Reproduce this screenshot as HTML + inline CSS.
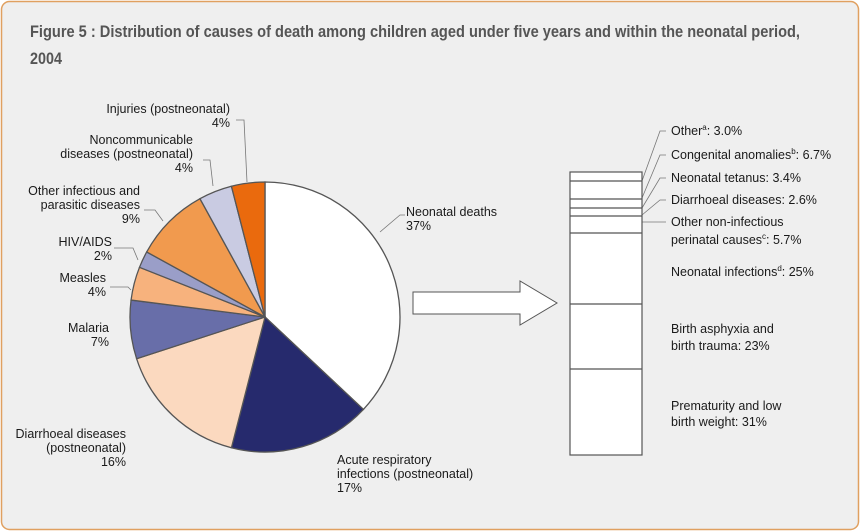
<!DOCTYPE html>
<html><head><meta charset="utf-8"><style>
html,body{margin:0;padding:0;background:#fff;width:860px;height:531px;overflow:hidden}
svg{display:block}
text{font-family:"Liberation Sans Narrow","Liberation Sans",sans-serif;font-size:12.5px;fill:#1a1a1a}
.t{font-weight:bold;font-size:17px;fill:#555}
</style></head><body>
<svg id="s" width="860" height="531" viewBox="0 0 860 531" xmlns="http://www.w3.org/2000/svg">
<rect x="1.5" y="1.5" width="857" height="528" rx="8" fill="#efefef" stroke="#e0a060" stroke-width="1.5"/>
<text class="t" x="30" y="37" textLength="770" lengthAdjust="spacingAndGlyphs">Figure 5 : Distribution of causes of death among children aged under five years and within the neonatal period,</text>
<text class="t" x="30" y="64" textLength="32" lengthAdjust="spacingAndGlyphs">2004</text>
<g id="pie" stroke="#555" stroke-width="1.3"></g>
<g stroke="#777" stroke-width="0.8" fill="none">
<polyline points="380,232 400,215 405,215"/>
<polyline points="247,182 244,120 236,120"/>
<polyline points="213,186 210,160 203,160"/>
<polyline points="163,221 155,210 144,210"/>
<polyline points="138,260 133,248 114,248"/>
<polyline points="131,290 128,287 110,287"/>
<polyline points="642,181 660,131 666,131"/>
<polyline points="642,198 660,155 666,155"/>
<polyline points="642,208 660,178 666,178"/>
<polyline points="642,215 660,200 666,200"/>
<line x1="642" y1="222" x2="666" y2="222"/>
</g>
<text x="406" y="216">Neonatal deaths</text><text x="406" y="230">37%</text>
<text x="337" y="464">Acute respiratory</text><text x="337" y="478">infections (postneonatal)</text><text x="337" y="492">17%</text>
<g text-anchor="end">
<text x="230" y="113">Injuries (postneonatal)</text><text x="230" y="127">4%</text>
<text x="193" y="144">Noncommunicable</text><text x="193" y="158">diseases (postneonatal)</text><text x="193" y="172">4%</text>
<text x="140" y="195">Other infectious and</text><text x="140" y="209">parasitic diseases</text><text x="140" y="223">9%</text>
<text x="112" y="246">HIV/AIDS</text><text x="112" y="260">2%</text>
<text x="106" y="282">Measles</text><text x="106" y="296">4%</text>
<text x="109" y="332">Malaria</text><text x="109" y="346">7%</text>
<text x="126" y="438">Diarrhoeal diseases</text><text x="126" y="452">(postneonatal)</text><text x="126" y="466">16%</text>
</g>
<polygon points="413,292 520,292 520,281 557,303 520,325 520,314 413,314" fill="#fff" stroke="#555" stroke-width="1"/>
<g fill="#fff" stroke="#555" stroke-width="1.2">
<rect x="570" y="172" width="72" height="283"/>
<line x1="570" y1="181" x2="642" y2="181"/><line x1="570" y1="199" x2="642" y2="199"/>
<line x1="570" y1="208" x2="642" y2="208"/><line x1="570" y1="216" x2="642" y2="216"/>
<line x1="570" y1="233" x2="642" y2="233"/><line x1="570" y1="304" x2="642" y2="304"/>
<line x1="570" y1="369" x2="642" y2="369"/>
</g>
<text x="671" y="135">Other<tspan dy="-5" font-size="8">a</tspan><tspan dy="5">: 3.0%</tspan></text>
<text x="671" y="159">Congenital anomalies<tspan dy="-5" font-size="8">b</tspan><tspan dy="5">: 6.7%</tspan></text>
<text x="671" y="182">Neonatal tetanus: 3.4%</text>
<text x="671" y="204">Diarrhoeal diseases: 2.6%</text>
<text x="671" y="226">Other non-infectious</text>
<text x="671" y="244">perinatal causes<tspan dy="-5" font-size="8">c</tspan><tspan dy="5">: 5.7%</tspan></text>
<text x="671" y="276">Neonatal infections<tspan dy="-5" font-size="8">d</tspan><tspan dy="5">: 25%</tspan></text>
<text x="671" y="333">Birth asphyxia and</text><text x="671" y="350">birth trauma: 23%</text>
<text x="671" y="410">Prematurity and low</text><text x="671" y="426">birth weight: 31%</text>
</svg>
<script>
var d=[[37,"#ffffff"],[17,"#262a6d"],[16,"#fbd9bf"],[7,"#686ea9"],[4,"#f7b27d"],[2,"#9a9ec8"],[9,"#f19a4e"],[4,"#c9cbe2"],[4,"#ea6a0d"]];
var cx=265,cy=317,r=135,a=0,g=document.getElementById("pie"),h="";
d.forEach(function(s){var a2=a+s[0]/100*2*Math.PI;
var x1=cx+r*Math.sin(a),y1=cy-r*Math.cos(a),x2=cx+r*Math.sin(a2),y2=cy-r*Math.cos(a2);
h+='<path d="M'+cx+','+cy+'L'+x1+','+y1+'A'+r+','+r+' 0 '+(a2-a>Math.PI?1:0)+' 1 '+x2+','+y2+'Z" fill="'+s[1]+'"/>';a=a2;});
g.innerHTML=h;
</script>
</body></html>
